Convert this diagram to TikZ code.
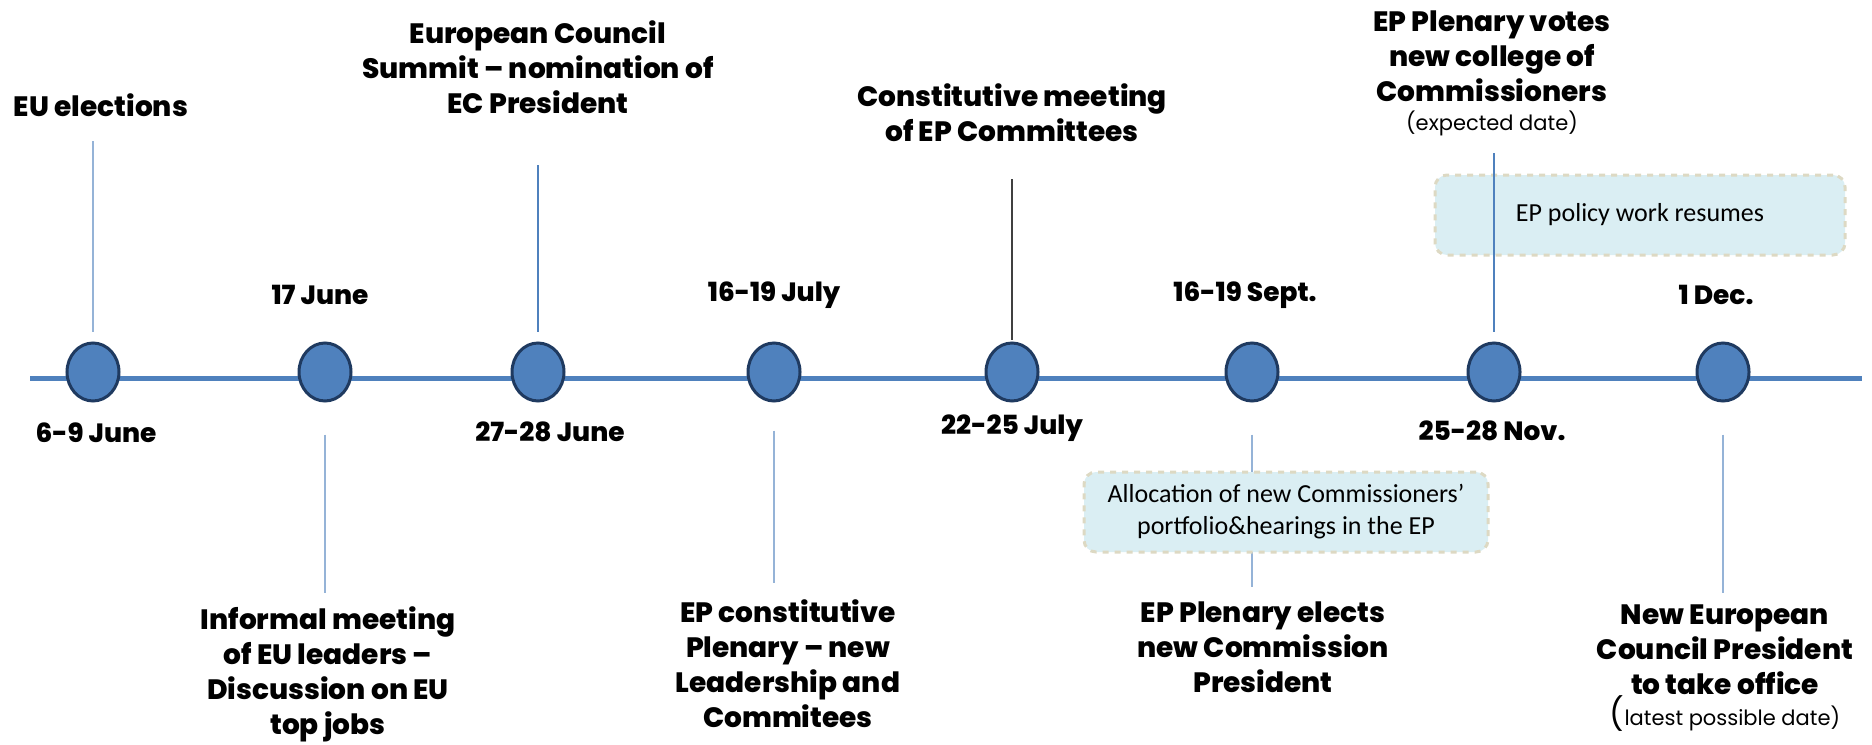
\documentclass[tikz,border=0pt]{standalone}
\usepackage{fontspec}
\setmainfont{Poppins}
\IfFontExistsTF{Poppins ExtraBold}{\newfontfamily\heavy{Poppins ExtraBold}}{\newfontfamily\heavy{Poppins}[FakeBold=1.2]}
\newfontfamily\boxfont{Carlito}
\usetikzlibrary{shapes.geometric}
\definecolor{lineblue}{HTML}{4F81BD}
\definecolor{dotedge}{HTML}{1F3A60}
\definecolor{ticklight}{HTML}{95B3D7}
\definecolor{boxfill}{HTML}{DAEEF3}
\definecolor{boxedge}{HTML}{DDD9C3}

\begin{document}
\begin{tikzpicture}[x=0.5pt,y=-0.5pt]
			\tikzset{dot/.style={ellipse,draw=dotedge,fill=lineblue,line width=1.5pt,minimum width=26pt,minimum height=29pt,inner sep=0pt}}
			\tikzset{event/.style={align=center,font=\heavy\fontsize{14}{17.5}\selectfont}}
			\tikzset{date/.style={font=\heavy\fontsize{13.2}{17.5}\selectfont}}
			\tikzset{note/.style={draw=boxedge,fill=boxfill,dashed,line width=1.5pt,rounded corners=6pt,align=center,font=\boxfont\fontsize{13}{16}\selectfont,inner sep=0pt}}
			\tikzset{tick/.style={ticklight,line width=0.8pt}}
			\useasboundingbox (0,0) rectangle (1872,744);
			\coordinate (start) at (30,378);
			\coordinate (end) at (1862,378);
			\draw[lineblue,line width=2.5pt] (start) -- (end);
			\node[dot] (jun6) at (93,372) {};
			\node[dot] (jun17) at (325,372) {};
			\node[dot] (jun27) at (538,372) {};
			\node[dot] (jul16) at (774,372) {};
			\node[dot] (jul22) at (1012,372) {};
			\node[dot] (sep16) at (1252,372) {};
			\node[dot] (nov25) at (1494,372) {};
			\node[dot] (dec1) at (1723,372) {};
			\node[event] (elections) at (101,105) {EU elections};
			\node[event] (summit) at (538,67) {European Council\\Summit – nomination of\\EC President};
			\node[event] (committees) at (1012,113) {Constitutive meeting\\of EP Committees};
			\node[event] (college) at (1492,73) {EP Plenary votes\\new college of\\Commissioners\\[-3pt]{\rmfamily\fontsize{10.5}{13}\selectfont(expected date)}};
			\node[event] (informal) at (328,674) {Informal meeting\\of EU leaders –\\Discussion on EU\\top jobs};
			\node[event] (plenary) at (788,664) {EP constitutive\\Plenary – new\\Leadership and\\Commitees};
			\node[event] (elects) at (1263,647) {EP Plenary elects\\new Commission\\President};
			\node[event] (office) at (1725,668) {New European\\Council President\\to take office\\[-2pt]{\rmfamily\fontsize{10.5}{13}\selectfont{\fontsize{16}{13}\selectfont(}latest possible date)}};
			\node[date] (d1) at (96,433) {6-9 June};
			\node[date] (d2) at (320,295) {17 June};
			\node[date] (d3) at (550,432) {27-28 June};
			\node[date] (d4) at (774,295) {16-19 July};
			\node[date] (d5) at (1012,428) {22-25 July};
			\node[date] (d6) at (1245,295) {16-19 Sept.};
			\node[date] (d7) at (1492,431) {25-28 Nov.};
			\node[date] (d8) at (1716,295) {1 Dec.};
			\coordinate (t1) at (93,141);
			\coordinate (t2) at (325,593);
			\coordinate (t3) at (538,165);
			\coordinate (t4) at (774,583);
			\coordinate (t5) at (1012,179);
			\coordinate (t6) at (1252,587);
			\coordinate (t7) at (1494,153);
			\coordinate (t8) at (1723,593);
			\draw[tick,shorten <=5pt] (jun6.north) -- (t1);
			\draw[tick,shorten <=16pt] (jun17.south) -- (t2);
			\draw[tick,lineblue,shorten <=5pt] (jun27.north) -- (t3);
			\draw[tick,shorten <=14pt] (jul16.south) -- (t4);
			\draw[tick,black!75,shorten <=1pt] (jul22.north) -- (t5);
			\draw[tick,shorten <=16pt] (sep16.south) -- (t6);
			\node[note,minimum width=202pt,minimum height=40pt] (alloc) at (1286,512) {Allocation of new Commissioners’\\portfolio\&hearings in the EP};
			\node[note,minimum width=205pt,minimum height=40pt] (resumes) at (1640,215) {EP policy work resumes};
			\draw[tick,lineblue,shorten <=5pt] (nov25.north) -- (t7);
			\draw[tick,shorten <=16pt] (dec1.south) -- (t8);
		\end{tikzpicture}
\end{document}
